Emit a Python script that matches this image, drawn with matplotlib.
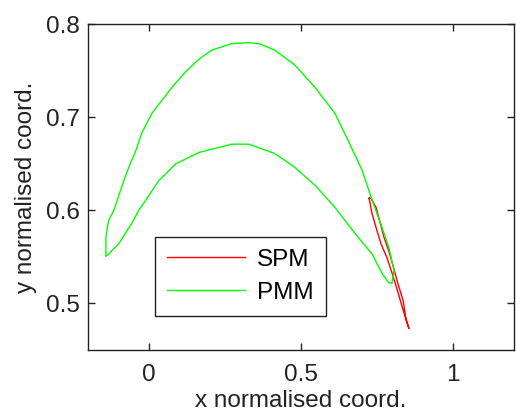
import matplotlib
matplotlib.use("Agg")
import matplotlib.pyplot as plt

# Outer (upper) PMM surface, from leading-edge cusp to trailing edge
pmm_outer_x = [-0.141, -0.141, -0.136, -0.132, -0.115, -0.082, -0.066, -0.043, -0.023, 0.010,
               0.076, 0.122, 0.164, 0.207, 0.273, 0.329, 0.362, 0.414, 0.480, 0.546,
               0.579, 0.612, 0.655, 0.701, 0.734, 0.767, 0.789, 0.806, 0.799]
pmm_outer_y = [0.551, 0.571, 0.582, 0.589, 0.600, 0.632, 0.646, 0.664, 0.683, 0.704,
               0.732, 0.749, 0.762, 0.772, 0.779, 0.780, 0.779, 0.772, 0.756, 0.732,
               0.718, 0.704, 0.675, 0.643, 0.611, 0.581, 0.560, 0.535, 0.522]
# Inner (lower) PMM surface, from leading-edge cusp to trailing edge
pmm_inner_x = [-0.141, -0.132, -0.099, -0.056, -0.033, -0.010, 0.033, 0.089, 0.164, 0.273,
               0.329, 0.414, 0.480, 0.546, 0.612, 0.678, 0.734, 0.767, 0.789, 0.799]
pmm_inner_y = [0.551, 0.553, 0.564, 0.586, 0.600, 0.611, 0.632, 0.650, 0.662, 0.671,
               0.671, 0.661, 0.646, 0.627, 0.603, 0.575, 0.553, 0.532, 0.522, 0.522]
# SPM thin loop
spm_x = [0.724, 0.734, 0.750, 0.763, 0.783, 0.799, 0.816, 0.832, 0.855,
         0.845, 0.836, 0.819, 0.803, 0.789, 0.773, 0.760, 0.747, 0.730, 0.724]
spm_y = [0.613, 0.596, 0.578, 0.564, 0.549, 0.533, 0.515, 0.497, 0.473,
         0.483, 0.503, 0.521, 0.540, 0.556, 0.571, 0.587, 0.603, 0.613, 0.613]

xticks = [0, 0.5, 1]
xticklabels = ["0", "0.5", "1"]
yticks = [0.5, 0.6, 0.7, 0.8]
yticklabels = ["0.5", "0.6", "0.7", "0.8"]

plt.rcParams['font.family'] = ['Liberation Sans', 'DejaVu Sans']
FS = 17.5
INK = '#222222'

fig = plt.figure(figsize=(5.16, 4.12), dpi=100)
ax = fig.add_axes([0.1705, 0.1505, 0.8255, 0.7912])

spm_line, = ax.plot(spm_x, spm_y, color=(1, 0, 0), lw=1.0, label="SPM")
pmm_line, = ax.plot(pmm_outer_x, pmm_outer_y, color=(0, 1, 0), lw=1.0, label="PMM")
ax.plot(pmm_inner_x, pmm_inner_y, color=(0, 1, 0), lw=1.0)

ax.set_xlim(-0.2, 1.2)
ax.set_ylim(0.45, 0.8)
ax.set_xticks(xticks)
ax.set_xticklabels(xticklabels)
ax.set_yticks(yticks)
ax.set_yticklabels(yticklabels)
ax.tick_params(direction='in', length=5, width=1, top=True, right=True,
               labelsize=FS, colors=INK)
ax.tick_params(axis='x', pad=10)
ax.tick_params(axis='y', pad=6)
for s in ax.spines.values():
    s.set_linewidth(1.0)
    s.set_color(INK)

ax.set_xlabel("x normalised coord.", fontsize=FS, color=INK, labelpad=3)
ax.set_ylabel("y normalised coord.", fontsize=FS, color=INK, labelpad=6)

leg = ax.legend(handles=[spm_line, pmm_line], loc='lower left',
                bbox_to_anchor=(0.157, 0.104), borderaxespad=0, fontsize=FS,
                fancybox=False, shadow=False, framealpha=1, edgecolor=INK,
                handlelength=3.2, handletextpad=0.5, borderpad=0.5, labelspacing=0.45)
leg.get_frame().set_linewidth(1.0)

fig.savefig("out.png", dpi=100)
